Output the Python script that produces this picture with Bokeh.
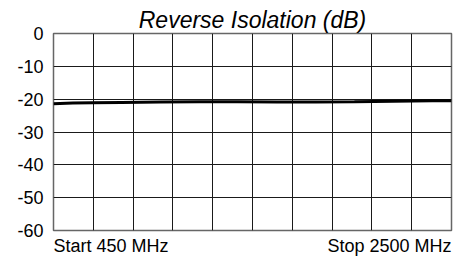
from bokeh.plotting import figure
from bokeh.models import Range1d, FixedTicker
from bokeh.embed import file_html
from bokeh.resources import INLINE
import numpy as np

# Data
freq_mhz = [450, 550, 650, 800, 1000, 1200, 1400, 1600, 1800, 2000, 2200, 2400, 2500]
isolation_db = [-21.4, -21.2, -21.1, -21.0, -20.9, -20.8, -20.8, -20.9, -20.9, -20.8, -20.6, -20.5, -20.5]

x_start, x_stop = 450, 2500
y_ticks = [0, -10, -20, -30, -40, -50, -60]
y_tick_labels = ["0", "-10", "-20", "-30", "-40", "-50", "-60"]
title_text = "Reverse Isolation (dB)"
start_text = "Start 450 MHz"
stop_text = "Stop 2500 MHz"

FONT = "Liberation Sans"
LABEL_PX = 18
W, H = 454, 258
BL, BR, BT, BB = 53, 3, 33, 26
frame_px = W - BL - BR

# place the bottom labels so that "Start" begins at the left edge and "Stop" ends at the right edge
start_w_px = 6.391 * LABEL_PX   # Arial/Liberation advance widths, em units
stop_w_px = 6.892 * LABEL_PX
span = x_stop - x_start
start_pos = x_start + (start_w_px / 2) / frame_px * span
stop_pos = x_stop - (stop_w_px / 2) / frame_px * span

p = figure(width=W, height=H, output_backend="svg", toolbar_location=None,
           x_range=Range1d(x_start, x_stop), y_range=Range1d(min(y_ticks), max(y_ticks)),
           min_border_left=BL, min_border_right=BR, min_border_top=BT, min_border_bottom=BB)

p.background_fill_color = "white"
p.border_fill_color = "white"
p.outline_line_color = "#666666"
p.outline_line_width = 1.5

p.title.text = title_text
p.title.align = "center"
p.title.text_font = FONT
p.title.text_font_style = "italic"
p.title.text_font_size = "23px"
p.title.text_color = "black"
p.title.standoff = 1

p.yaxis.ticker = FixedTicker(ticks=y_ticks)
p.yaxis.major_label_overrides = {t: s for t, s in zip(y_ticks, y_tick_labels)}
p.yaxis.axis_line_color = None
p.yaxis.major_tick_line_color = None
p.yaxis.minor_tick_line_color = None
p.yaxis.major_tick_out = 0
p.yaxis.major_tick_in = 0
p.yaxis.major_label_standoff = 10
p.yaxis.major_label_text_font = FONT
p.yaxis.major_label_text_font_size = "18px"
p.yaxis.major_label_text_color = "black"

p.xaxis.ticker = FixedTicker(ticks=[start_pos, stop_pos])
p.xaxis.major_label_overrides = {start_pos: start_text, stop_pos: stop_text}
p.xaxis.axis_line_color = None
p.xaxis.major_tick_line_color = None
p.xaxis.minor_tick_line_color = None
p.xaxis.major_tick_out = 0
p.xaxis.major_tick_in = 0
p.xaxis.major_label_standoff = 5
p.xaxis.major_label_text_font = FONT
p.xaxis.major_label_text_font_size = f"{LABEL_PX}px"
p.xaxis.major_label_text_color = "black"

p.xgrid.ticker = FixedTicker(ticks=list(np.linspace(x_start, x_stop, 11)))
p.ygrid.ticker = FixedTicker(ticks=y_ticks)
for g in (p.xgrid, p.ygrid):
    g.grid_line_color = "#1a1a1a"
    g.grid_line_width = 1
    g.grid_line_alpha = 1

p.line(freq_mhz, isolation_db, line_color="black", line_width=3)

open("out.html", "w").write(file_html(p, INLINE))
